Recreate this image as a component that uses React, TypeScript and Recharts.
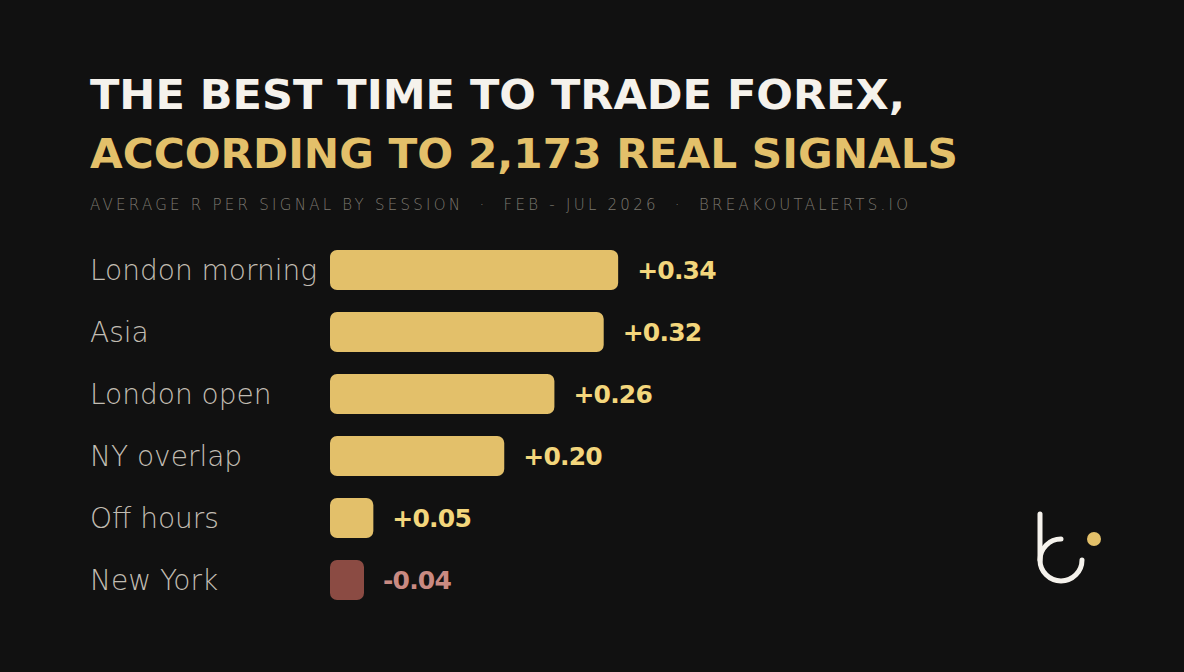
import React from 'react';
import { BarChart, Bar, XAxis, YAxis, Cell, LabelList } from 'recharts';

// session names, top to bottom
const sessions = ['London morning', 'Asia', 'London open', 'NY overlap', 'Off hours', 'New York'];
// average R per signal (labels show 2 decimals)
const avgR = [0.339, 0.322, 0.264, 0.205, 0.051, -0.04];

const titleLine1 = 'THE BEST TIME TO TRADE FOREX,';
const titleLine2 = 'ACCORDING TO 2,173 REAL SIGNALS';
const subtitle = 'AVERAGE R PER SIGNAL BY SESSION  ·  FEB - JUL 2026  ·  BREAKOUTALERTS.IO';

const BG = '#111111';
const GOLD = '#e3c06a';
const GOLD_TEXT = '#f3d67c';
const RED = '#8b4b43';
const RED_TEXT = '#c98a82';
const FONT = '"DejaVu Sans", sans-serif';

const W = 1184;
const H = 672;

const data = sessions.map((s, i) => ({
  session: s,
  r: avgR[i],
  size: Math.abs(avgR[i]),
}));

const fmt = (v: number) => (v >= 0 ? '+' : '-') + Math.abs(v).toFixed(2);

const SessionTick = (props: any) => {
  const { y, payload } = props;
  return (
    <text
      x={90}
      y={y}
      dy={10}
      fill="#c2bdb3"
      fontSize={28}
      fontWeight={200}
      fontFamily={FONT}
      textAnchor="start"
    >
      {payload.value}
    </text>
  );
};

const ValueLabel = (props: any) => {
  const { x, y, width, height, index } = props;
  const v = avgR[index];
  return (
    <text
      x={x + width + 19}
      y={y + height / 2}
      dy={9}
      fill={v >= 0 ? GOLD_TEXT : RED_TEXT}
      fontSize={25}
      fontWeight={700}
      fontFamily={FONT}
      letterSpacing={-0.8}
    >
      {fmt(v)}
    </text>
  );
};

export default function App() {
  return (
    <div style={{ position: 'relative', width: W, height: H, background: BG, overflow: 'hidden' }}>
      <style>{`body{margin:0;background:${BG};}`}</style>
      <svg width={W} height={H} style={{ position: 'absolute', left: 0, top: 0 }}>
        <text x={90} y={109} fill="#f5f2ec" fontSize={40} fontWeight={700} fontFamily={FONT}
          textLength={815} lengthAdjust="spacingAndGlyphs">
          {titleLine1}
        </text>
        <text x={90} y={168} fill={GOLD} fontSize={40} fontWeight={700} fontFamily={FONT}
          textLength={868} lengthAdjust="spacingAndGlyphs">
          {titleLine2}
        </text>
        <text x={90} y={210} fill="#7d7970" fontSize={15} fontWeight={200} fontFamily={FONT}
          textLength={818} lengthAdjust="spacing" xmlSpace="preserve">
          {subtitle}
        </text>
        {/* logo */}
        <g fill="none" stroke="#f5f2ec" strokeWidth={5} strokeLinecap="round">
          <path d="M1040 514 V560" />
          <path d="M1061 539 A21 21 0 1 0 1082 560" />
        </g>
        <circle cx={1094} cy={539} r={7} fill={GOLD} />
      </svg>
      <div style={{ position: 'absolute', left: 0, top: 0 }}>
        <BarChart
          width={W}
          height={H}
          data={data}
          layout="vertical"
          margin={{ top: 239, right: 514, bottom: 61, left: 90 }}
          barSize={40}
        >
          <XAxis type="number" domain={[0, 0.4]} hide />
          <YAxis
            type="category"
            dataKey="session"
            width={240}
            axisLine={false}
            tickLine={false}
            tick={<SessionTick />}
          />
          <Bar dataKey="size" radius={7} isAnimationActive={false}>
            {data.map((d, i) => (
              <Cell key={i} fill={d.r >= 0 ? GOLD : RED} />
            ))}
            <LabelList dataKey="size" content={<ValueLabel />} />
          </Bar>
        </BarChart>
      </div>
    </div>
  );
}
